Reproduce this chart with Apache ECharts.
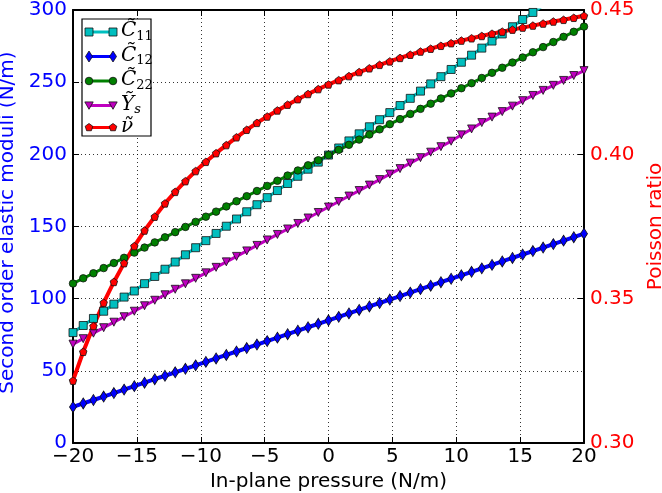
<!DOCTYPE html>
<html>
<head>
<meta charset="utf-8">
<script src="https://cdn.jsdelivr.net/npm/echarts@6/dist/echarts.min.js"></script>
<style>
html,body{margin:0;padding:0;background:#fff;}
#chart{width:662px;height:493px;}
</style>
</head>
<body>
<div id="chart"></div>
<script>
// In-plane pressure (N/m)
const pressure = [-20,-19.2,-18.4,-17.6,-16.8,-16,-15.2,-14.4,-13.6,-12.8,-12,-11.2,-10.4,-9.6,-8.8,-8,-7.2,-6.4,-5.6,-4.8,-4,-3.2,-2.4,-1.6,-0.8,0,0.8,1.6,2.4,3.2,4,4.8,5.6,6.4,7.2,8,8.8,9.6,10.4,11.2,12,12.8,13.6,14.4,15.2,16,16.8,17.6,18.4,19.2,20];

const C11 = [76.5,81.4,86.3,91.3,96.2,101.1,105.3,110.4,115.4,120.4,125.4,130.4,135.3,140.2,145.2,150.2,155.2,160.2,165.1,170.0,174.9,179.8,184.8,189.7,194.6,199.5,204.4,209.3,214.2,219.1,224.0,228.9,233.8,238.8,243.8,248.8,253.8,258.8,263.8,268.7,273.6,278.5,283.4,288.4,293.4,298.3,303.2,308.1,313.0,317.9,322.8];

const C12 = [25.0,27.4,29.8,32.2,34.6,37.0,39.4,41.8,44.2,46.6,49.0,51.4,53.8,56.2,58.6,61.0,63.4,65.8,68.2,70.6,73.0,75.4,77.8,80.2,82.6,85.0,87.4,89.8,92.2,94.6,97.0,99.4,101.8,104.2,106.6,109.0,111.4,113.8,116.2,118.6,121.0,123.4,125.8,128.2,130.6,133.0,135.4,137.8,140.2,142.6,145.0];

const C22 = [110.5,114.1,117.6,121.2,124.7,128.3,131.9,135.4,139.0,142.5,146.1,149.7,153.2,156.8,160.3,163.9,167.5,171.0,174.6,178.1,181.7,185.3,188.8,192.4,195.9,199.5,203.1,206.6,210.2,213.7,217.3,220.9,224.4,228.0,231.5,235.1,238.7,242.2,245.8,249.3,252.9,256.5,260.0,263.6,267.1,270.7,274.3,277.8,281.4,284.9,288.5];

const Ys = [68.5,72.3,76.1,79.9,83.7,87.5,91.3,95.1,98.9,102.7,106.5,110.3,114.1,117.9,121.7,125.5,129.3,133.1,136.9,140.7,144.5,148.3,152.1,155.9,159.7,163.5,167.3,171.1,174.9,178.7,182.5,186.3,190.1,193.9,197.7,201.5,205.3,209.1,213.5,217.6,222.0,225.8,229.6,233.4,237.2,240.8,244.3,247.8,251.2,254.6,258.0];

const nu = [0.3216,0.3316,0.3405,0.3486,0.3558,0.3623,0.3682,0.3736,0.3784,0.3830,0.3870,0.3907,0.3942,0.3974,0.4004,0.4032,0.4059,0.4085,0.4109,0.4131,0.4152,0.4172,0.4191,0.4209,0.4226,0.4242,0.4257,0.4271,0.4285,0.4298,0.4310,0.4322,0.4334,0.4345,0.4356,0.4366,0.4376,0.4385,0.4394,0.4402,0.4410,0.4418,0.4425,0.4432,0.4439,0.4446,0.4453,0.4460,0.4466,0.4473,0.4480];

const xTicks = {min: -20, max: 20, interval: 5};
const leftTicks = {min: 0, max: 300, interval: 50};
const rightTicks = {min: 0.30, max: 0.45, interval: 0.05};

const FONT = 'DejaVu Sans';
const FS = 20;
const PENTAGON = 'path://M0,-1 L0.951,-0.309 L0.588,0.809 L-0.588,0.809 L-0.951,-0.309 Z';

function pairs(ys){ return pressure.map((x,i)=>[x, ys[i]]); }

function mkSeries(name, data, color, symbol, size, lw, yIdx, rotate){
  return {
    name: name, type: 'line', data: pairs(data), yAxisIndex: yIdx || 0,
    symbol: symbol, symbolSize: size, symbolRotate: rotate || 0,
    showSymbol: true, showAllSymbol: true, clip: true,
    lineStyle: {color: color, width: lw},
    itemStyle: {color: color, borderColor: '#111', borderWidth: 0.8},
    emphasis: {disabled: true}, z: 2
  };
}

// Legend (drawn as graphic)
const legendRows = [
  {main: 'C\u0303', sub: '11', color: '#00bfbf', sym: 'square', y: 32},
  {main: 'C\u0303', sub: '12', color: '#0000ff', sym: 'diamond', y: 56.5},
  {main: 'C\u0303', sub: '22', color: '#008000', sym: 'circle', y: 81},
  {main: '\u1EF8', sub: 's', color: '#bf00bf', sym: 'tri', y: 105.5},
  {main: '\u03BD\u0303', sub: '', color: '#ff0000', sym: 'pent', y: 127.5}
];

function symGraphic(sym, cx, cy, color){
  const st = {fill: color, stroke: '#111', lineWidth: 0.8};
  if (sym === 'square') return {type:'rect', shape:{x:cx-4,y:cy-4,width:8,height:8}, style: st, z: 101};
  if (sym === 'circle') return {type:'circle', shape:{cx:cx,cy:cy,r:3.8}, style: st, z: 101};
  if (sym === 'diamond') return {type:'polygon', shape:{points:[[cx,cy-5.5],[cx+3.5,cy],[cx,cy+5.5],[cx-3.5,cy]]}, style: st, z: 101};
  if (sym === 'tri') return {type:'polygon', shape:{points:[[cx-4.2,cy-3.6],[cx+4.2,cy-3.6],[cx,cy+3.8]]}, style: st, z: 101};
  const pts = [];
  for (let k=0;k<5;k++){ const a = -Math.PI/2 + k*2*Math.PI/5; pts.push([cx+4*Math.cos(a), cy+4*Math.sin(a)]); }
  return {type:'polygon', shape:{points:pts}, style: st, z: 101};
}

const graphics = [{type:'rect', shape:{x:82,y:19,width:69,height:117}, style:{fill:'#fff', stroke:'#000', lineWidth:1.2}, z: 100}];
legendRows.forEach(r=>{
  graphics.push({type:'line', shape:{x1:89,y1:r.y,x2:113,y2:r.y}, style:{stroke:r.color, lineWidth:3}, z: 100});
  graphics.push(symGraphic(r.sym, 89, r.y, r.color));
  graphics.push(symGraphic(r.sym, 113, r.y, r.color));
  graphics.push({type:'text', x:121, y:r.y - 1, z: 102,
    style:{text: '{a|' + r.main + '}' + (r.sub ? '{b|' + r.sub + '}' : ''), verticalAlign:'middle', align:'left',
      rich:{a:{fontSize:20, fontStyle:'italic', fontFamily:'DejaVu Serif', fill:'#000'},
            b:{fontSize:13, fontStyle: r.sub === 's' ? 'italic' : 'normal', fontFamily:'DejaVu Serif', fill:'#000', padding:[11,0,0,0]}}}});
});

const chart = echarts.init(document.getElementById('chart'), null, {renderer:'canvas'});
chart.setOption({
  animation: false,
  backgroundColor: '#fff',
  grid: {left: 73, right: 78, top: 10, bottom: 50, containLabel: false, outerBoundsMode: 'none'},
  xAxis: [{
    type: 'value', min: xTicks.min, max: xTicks.max, interval: xTicks.interval, position: 'bottom',
    name: 'In-plane pressure (N/m)', nameLocation: 'middle', nameGap: 22,
    nameTextStyle: {fontFamily: FONT, fontSize: FS, color: '#000'},
    axisLine: {show: true, onZero: false, lineStyle: {color: '#000', width: 2}},
    axisTick: {show: true, inside: true, length: 6, lineStyle: {color: '#000', width: 1}},
    axisLabel: {fontFamily: FONT, fontSize: FS, color: '#000', margin: 4,
      formatter: v => String(v).replace('-', '\u2212')},
    splitLine: {show: true, lineStyle: {color: '#000', width: 0.8, type: [1, 3]}}
  },{
    type: 'value', min: xTicks.min, max: xTicks.max, interval: xTicks.interval, position: 'top',
    axisLine: {show: true, onZero: false, lineStyle: {color: '#000', width: 2}},
    axisTick: {show: true, inside: true, length: 6, lineStyle: {color: '#000', width: 1}},
    axisLabel: {show: false}, splitLine: {show: false}
  }],
  yAxis: [{
    type: 'value', min: leftTicks.min, max: leftTicks.max, interval: leftTicks.interval, position: 'left',
    name: 'Second order elastic moduli (N/m)', nameLocation: 'middle', nameGap: 41, nameRotate: 90,
    nameTextStyle: {fontFamily: FONT, fontSize: FS, color: '#0000ff', padding: [0, 0, 0, 8]},
    axisLine: {show: true, onZero: false, lineStyle: {color: '#000', width: 2}},
    axisTick: {show: true, inside: true, length: 6, lineStyle: {color: '#000', width: 1}},
    axisLabel: {fontFamily: FONT, fontSize: FS, color: '#0000ff', margin: 6},
    splitLine: {show: true, lineStyle: {color: '#000', width: 0.8, type: [1, 3]}}
  },{
    type: 'value', min: rightTicks.min, max: rightTicks.max, interval: rightTicks.interval, position: 'right',
    name: 'Poisson ratio', nameLocation: 'middle', nameGap: 48, nameRotate: 90,
    nameTextStyle: {fontFamily: FONT, fontSize: FS, color: '#ff0000'},
    axisLine: {show: true, onZero: false, lineStyle: {color: '#000', width: 2}},
    axisTick: {show: true, inside: true, length: 6, lineStyle: {color: '#000', width: 1}},
    axisLabel: {fontFamily: FONT, fontSize: FS, color: '#ff0000', margin: 6, formatter: v => v.toFixed(2)},
    splitLine: {show: false}
  }],
  series: [
    mkSeries('C11', C11, '#00bfbf', 'rect', 8, 3, 0),
    mkSeries('C12', C12, '#0000ff', 'diamond', [7, 11], 4, 0),
    mkSeries('C22', C22, '#008000', 'circle', 7.5, 3, 0),
    mkSeries('Ys', Ys, '#bf00bf', 'triangle', 8, 3, 0, 180),
    mkSeries('nu', nu, '#ff0000', PENTAGON, 7.5, 4, 1)
  ],
  graphic: graphics
});
</script>
</body>
</html>
